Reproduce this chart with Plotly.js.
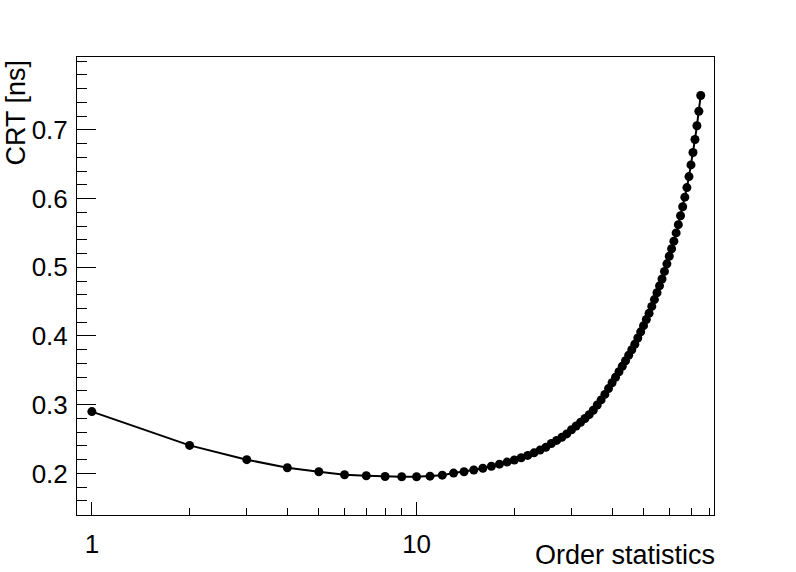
<!DOCTYPE html>
<html>
<head>
<meta charset="utf-8">
<script src="https://cdn.plot.ly/plotly-3.0.1.min.js"></script>
<style>html,body{margin:0;padding:0;background:#fff;}#chart{width:796px;height:572px;}</style>
</head>
<body>
<div id="chart"></div>
<script>
// Order statistic index
const orderStat = [1,2,3,4,5,6,7,8,9,10,11,12,13,14,15,16,17,18,19,20,
  21,22,23,24,25,26,27,28,29,30,31,32,33,34,35,36,37,38,39,40,
  41,42,43,44,45,46,47,48,49,50,51,52,53,54,55,56,57,58,59,60,
  61,62,63,64,65,66,67,68,69,70,71,72,73,74,75];
// CRT [ns]
const crt = [0.290,0.2408,0.220,0.2083,0.2025,0.198,0.1966,0.1955,0.1952,0.1952,
  0.196,0.1975,0.2005,0.2025,0.2050,0.2075,0.2105,0.2135,0.2165,0.2195,
  0.2228,0.2262,0.2300,0.2340,0.2380,0.2435,0.2480,0.2525,0.2575,0.2635,
  0.269,0.2745,0.280,0.2855,0.292,0.2995,0.307,0.315,0.3235,0.332,
  0.340,0.348,0.356,0.364,0.372,0.380,0.388,0.397,0.406,0.415,
  0.424,0.433,0.443,0.453,0.463,0.473,0.483,0.494,0.505,0.516,
  0.527,0.538,0.550,0.562,0.575,0.588,0.602,0.616,0.632,0.649,
  0.667,0.686,0.706,0.727,0.750];
const xMajorTicks = [1, 10];
const xMajorLabels = ['1', '10'];
const xMinorTicks = [2,3,4,5,6,7,8,9,20,30,40,50,60,70,80];
const yTicks = [0.2,0.3,0.4,0.5,0.6,0.7];
const yTickLabels = ['0.2','0.3','0.4','0.5','0.6','0.7'];

const font = 'Liberation Sans, Arial, Helvetica, sans-serif';
const fs = 26;
const tfs = 27;

const trace = {
  x: orderStat, y: crt, type: 'scatter', mode: 'lines+markers',
  line: {color: '#000', width: 2},
  marker: {color: '#000', size: 9, symbol: 'circle'},
  showlegend: false, hoverinfo: 'x+y'
};

const layout = {
  width: 796, height: 572,
  paper_bgcolor: '#fff', plot_bgcolor: '#fff',
  margin: {l: 77, r: 82, t: 57, b: 57, pad: 0},
  font: {family: font, size: fs, color: '#000'},
  xaxis: {
    type: 'log', range: [Math.log10(0.9), Math.log10(82.4)],
    showgrid: false, zeroline: false,
    showline: true, mirror: true, linecolor: '#000', linewidth: 1,
    ticks: 'inside', ticklen: 13, tickwidth: 1, tickcolor: '#000',
    tickmode: 'array', tickvals: xMajorTicks, ticktext: xMajorLabels,
    ticklabelstandoff: 6,
    tickfont: {family: font, size: fs, color: '#000'},
    minor: {ticks: 'inside', ticklen: 7, tickwidth: 1, tickcolor: '#000',
            tickmode: 'array', tickvals: xMinorTicks, showgrid: false}
  },
  yaxis: {
    range: [0.1395, 0.806],
    showgrid: false, zeroline: false,
    showline: true, mirror: true, linecolor: '#000', linewidth: 1,
    ticks: 'inside', ticklen: 19, tickwidth: 1, tickcolor: '#000',
    tickmode: 'array', tickvals: yTicks, ticktext: yTickLabels,
    ticklabelstandoff: 3,
    tickfont: {family: font, size: fs, color: '#000'},
    minor: {ticks: 'inside', ticklen: 10, tickwidth: 1, tickcolor: '#000',
            dtick: 0.02, tick0: 0, showgrid: false}
  },
  annotations: [
    {text: 'Order statistics', xref: 'paper', yref: 'paper',
     x: 1.004, y: -0.088, xanchor: 'right', yanchor: 'middle',
     showarrow: false, font: {family: font, size: tfs, color: '#000'}},
    {text: 'CRT [ns]', xref: 'paper', yref: 'paper',
     x: -0.095, y: 1.0, xanchor: 'center', yanchor: 'top', textangle: -90,
     showarrow: false, font: {family: font, size: tfs, color: '#000'}}
  ]
};

Plotly.newPlot('chart', [trace], layout, {displayModeBar: false, staticPlot: true});
</script>
</body>
</html>
